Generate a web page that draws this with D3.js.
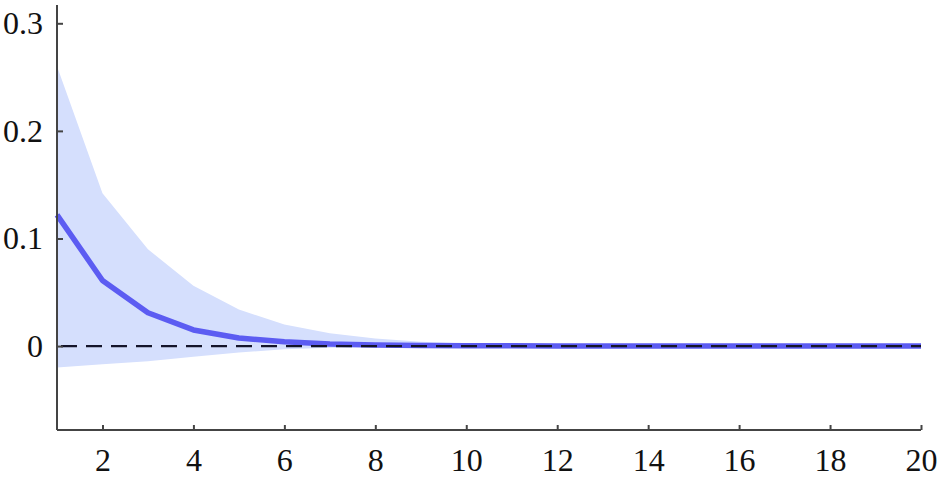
<!DOCTYPE html>
<html>
<head>
<meta charset="utf-8">
<script src="https://cdn.jsdelivr.net/npm/d3@7"></script>
<style>
  html, body { margin: 0; padding: 0; background: #fff; }
  svg text { font-family: "Liberation Serif", "Times New Roman", serif; fill: #111; }
</style>
</head>
<body>
<svg id="chart" width="944" height="478"></svg>
<script>
(function (d3) {
  'use strict'
  // data
  const horizons = d3.range(1, 21)
  const meanIrf = [0.122, 0.061, 0.031, 0.015, 0.0075, 0.004, 0.002, 0.001, 0.0005, 0.0003,
    0.0002, 0.0001, 0, 0, 0, 0, 0, 0, 0, 0]
  const upperBand = [0.260, 0.142, 0.090, 0.056, 0.034, 0.020, 0.012, 0.007, 0.004, 0.0025,
    0.0015, 0.001, 0.0006, 0.0004, 0.0002, 0.0001, 0.0001, 0, 0, 0]
  const lowerBand = [-0.020, -0.017, -0.014, -0.010, -0.006, -0.003, -0.0015, -0.0008, -0.0004, -0.0002,
    -0.0001, 0, 0, 0, 0, 0, 0, 0, 0, 0]
  const xTicks = [2, 4, 6, 8, 10, 12, 14, 16, 18, 20]
  const yTicks = [0, 0.1, 0.2, 0.3]

  const left = 57, right = 921, top = 5, bottom = 430

  const svg = d3.select('#chart')

  const x = d3.scaleLinear().domain([1, 20]).range([left, right])
  const y = d3.scaleLinear().domain([-0.078, 0.317]).range([bottom, top])

  const rows = horizons.map((h, i) => ({ h: h, m: meanIrf[i], lo: lowerBand[i], hi: upperBand[i] }))

  // confidence band
  svg.append('path')
    .datum(rows)
    .attr('fill', '#d5dffd')
    .attr('d', d3.area().x(d => x(d.h)).y0(d => y(d.lo)).y1(d => y(d.hi)))

  // impulse response
  svg.append('path')
    .datum(rows)
    .attr('fill', 'none')
    .attr('stroke', '#5c5cf2')
    .attr('stroke-width', 5.5)
    .attr('stroke-linejoin', 'round')
    .attr('d', d3.line().x(d => x(d.h)).y(d => y(d.m)))

  // zero line
  svg.append('line')
    .attr('x1', x(1)).attr('x2', x(20))
    .attr('y1', y(0)).attr('y2', y(0))
    .attr('stroke', '#14142a')
    .attr('stroke-width', 2.2)
    .attr('stroke-dasharray', '16,9')
    .attr('stroke-dashoffset', -4)

  // axes
  const xAxis = d3.axisBottom(x).tickValues(xTicks).tickSize(-5).tickPadding(18)
  const gx = svg.append('g').attr('transform', 'translate(0,' + bottom + ')').call(xAxis)
  const yAxis = d3.axisLeft(y).tickValues(yTicks).tickSize(-6).tickPadding(14)
    .tickFormat(d => d === 0 ? '0' : d3.format('.1f')(d))
  const gy = svg.append('g').attr('transform', 'translate(' + left + ',0)').call(yAxis)

  gx.select('.domain').attr('d', 'M' + left + ',0H' + right)
  gy.select('.domain').attr('d', 'M0,' + top + 'V' + bottom)
  ;[gx, gy].forEach(g => {
    g.selectAll('.domain, .tick line').attr('stroke', '#444').attr('stroke-width', 2)
    g.selectAll('text').attr('font-size', 32).attr('font-family', '"Liberation Serif", serif').attr('fill', '#111')
  })
  gx.selectAll('text').attr('dy', '0.71em')
  gy.selectAll('text').attr('dy', '0.32em')
}(d3))
</script>
</body>
</html>
